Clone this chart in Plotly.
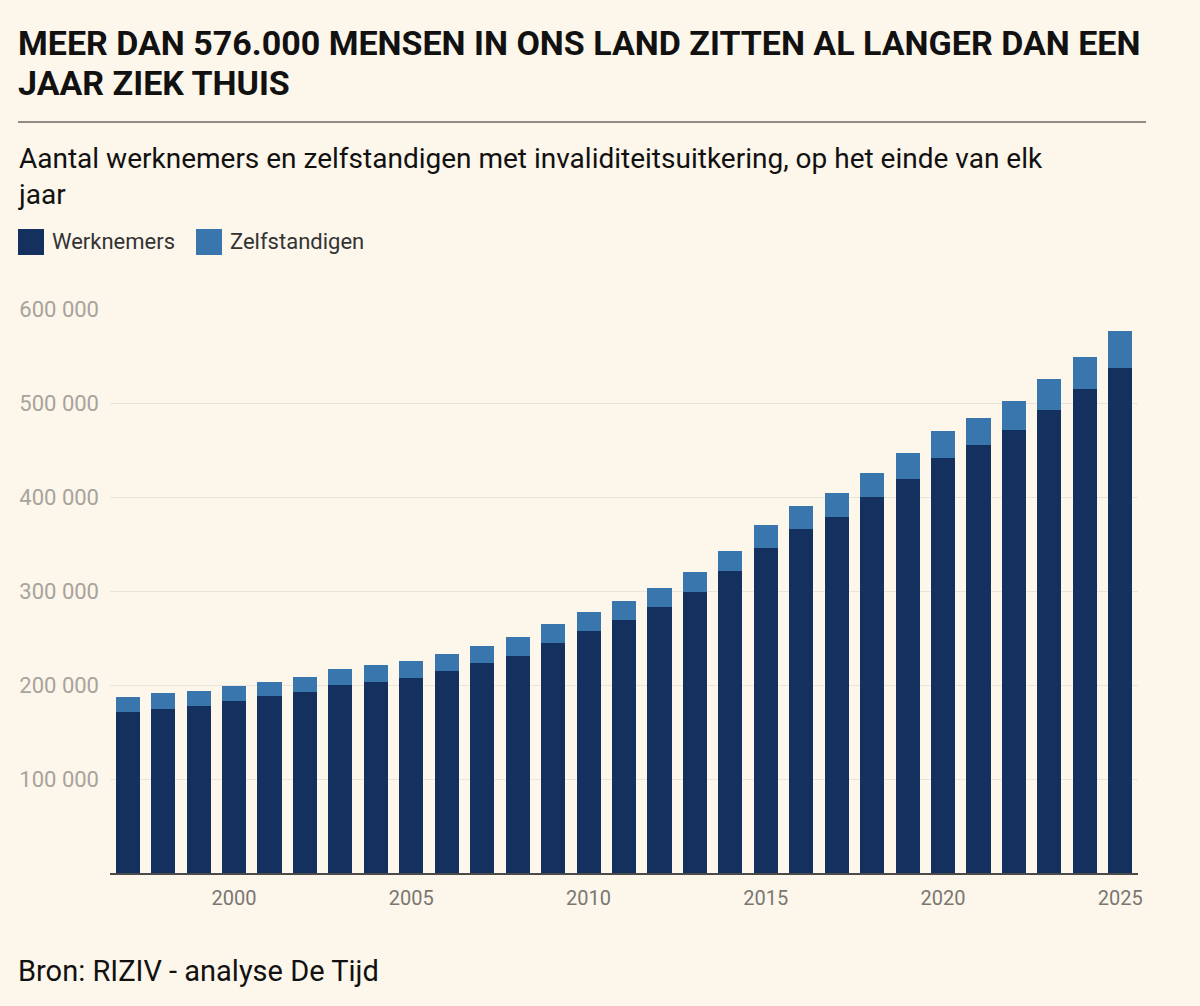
import plotly.graph_objects as go

# invaliditeit: werknemers + zelfstandigen, einde van elk jaar (RIZIV)
years = list(range(1997, 2026))
werknemers = [171600, 174500, 177700, 183000, 188300, 192900, 200300, 203500,
              207400, 214900, 223100, 231300, 245000, 257400, 268800, 283000,
              298600, 321300, 346100, 365900, 379100, 400000, 419100, 441100,
              455600, 471300, 492900, 514600, 537200]
zelfstandigen = [15900, 16600, 16300, 16300, 14900, 15600, 16400, 17800,
                 17800, 18400, 18400, 19500, 19500, 20200, 20500, 20500,
                 21600, 21600, 23800, 24500, 24800, 25500, 28000, 29100,
                 28800, 30800, 32900, 34700, 39400]
year_ticks = [2000, 2005, 2010, 2015, 2020, 2025]
value_ticks = [100000, 200000, 300000, 400000, 500000, 600000]

title_lines = ["MEER DAN 576.000 MENSEN IN ONS LAND ZITTEN AL LANGER DAN EEN",
               "JAAR ZIEK THUIS"]
subtitle = ("Aantal werknemers en zelfstandigen met invaliditeitsuitkering, op het einde van elk"
            "<br>jaar")
source = "Bron: RIZIV - analyse De Tijd"

DARK = "#13305e"
LIGHT = "#3a76ae"
BG = "#fdf6ea"
FONT = "Roboto"

W, H = 1200, 1006
L, R, T, B = 110, 62, 309, 133
pw, ph = W - L - R, H - T - B


# pixel -> paper helpers for the header/footer bits
def px(x):
    return (x - L) / pw


def py(y):
    return (H - B - y) / ph


fig = go.Figure()
fig.add_trace(go.Bar(x=years, y=werknemers, name="Werknemers",
                     marker=dict(color=DARK, line=dict(width=0))))
fig.add_trace(go.Bar(x=years, y=zelfstandigen, name="Zelfstandigen",
                     marker=dict(color=LIGHT, line=dict(width=0))))

annotations = [
    dict(text="<b>" + title_lines[0] + "</b>", x=px(16), y=py(43),
         font=dict(family=FONT, size=34, color="#111111")),
    dict(text="<b>" + title_lines[1] + "</b>", x=px(16), y=py(83),
         font=dict(family=FONT, size=34, color="#111111")),
    dict(text=subtitle, x=px(16), y=py(176),
         font=dict(family=FONT, size=28, color="#111111")),
    dict(text="Werknemers", x=px(50), y=py(242),
         font=dict(family=FONT, size=22, color="#333333")),
    dict(text="Zelfstandigen", x=px(228), y=py(242),
         font=dict(family=FONT, size=22, color="#333333")),
    dict(text=source, x=px(16), y=py(971),
         font=dict(family=FONT, size=29, color="#111111")),
]
for a in annotations:
    a.update(xref="paper", yref="paper", showarrow=False,
             xanchor="left", yanchor="middle", align="left")

shapes = [
    dict(type="line", x0=px(18), x1=px(1146), y0=py(122), y1=py(122),
         line=dict(color="#222222", width=1)),
    dict(type="rect", x0=px(18), x1=px(44), y0=py(229), y1=py(255),
         fillcolor=DARK, line=dict(width=0)),
    dict(type="rect", x0=px(196), x1=px(222), y0=py(229), y1=py(255),
         fillcolor=LIGHT, line=dict(width=0)),
]
for s in shapes:
    s.update(xref="paper", yref="paper")

fig.update_layout(
    width=W, height=H,
    margin=dict(l=L, r=R, t=T, b=B),
    barmode="stack",
    bargap=0.32,
    showlegend=False,
    paper_bgcolor=BG,
    plot_bgcolor=BG,
    separators=", ",
    font=dict(family=FONT),
    annotations=annotations,
    shapes=shapes,
)
fig.update_xaxes(
    range=[1996.5, 2025.5],
    tickvals=year_ticks,
    showgrid=False,
    showline=True, linecolor="#4a4a4a", linewidth=2,
    ticks="", ticklabelstandoff=6,
    tickfont=dict(family=FONT, size=20, color="#7a7672"),
)
fig.update_yaxes(
    range=[0, 600000],
    tickvals=value_ticks,
    tickformat=",d",
    showgrid=True, gridcolor="#ebe4da", gridwidth=1,
    zeroline=False,
    ticks="", ticklabelstandoff=10,
    tickfont=dict(family=FONT, size=22, color="#a8a39c"),
)

# page body has a default 8px margin; drop it so the chart fills the window
fig.write_html("out.html",
               config={"displayModeBar": False},
               post_script="document.body.style.margin='0';"
                           "document.body.style.background='" + BG + "';")
